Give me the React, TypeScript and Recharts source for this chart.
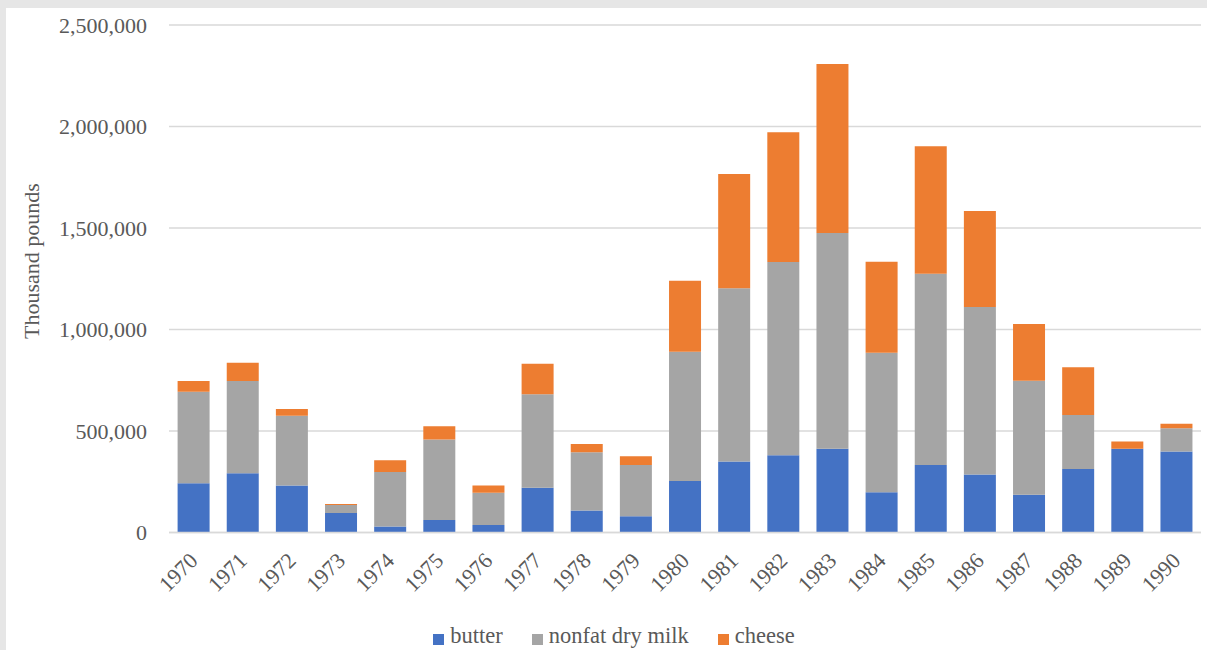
import { BarChart, Bar, XAxis, YAxis, CartesianGrid, Legend } from 'recharts'

// years on the category axis
const years = [
  '1970', '1971', '1972', '1973', '1974', '1975', '1976', '1977', '1978', '1979', '1980',
  '1981', '1982', '1983', '1984', '1985', '1986', '1987', '1988', '1989', '1990',
]

// thousand pounds
const butter = [
  242000, 292000, 232000, 96000, 30000, 61000, 37000, 221000, 108000, 80000, 254000,
  350000, 381000, 413000, 198000, 333000, 286000, 186000, 313000, 413000, 399000,
]
const nonfatDryMilk = [
  451000, 454000, 343000, 39000, 268000, 397000, 159000, 460000, 287000, 253000, 636000,
  853000, 951000, 1062000, 688000, 942000, 825000, 561000, 266000, 0, 115000,
]
const cheese = [
  53000, 90000, 33000, 5000, 58000, 66000, 35000, 150000, 41000, 43000, 350000,
  563000, 640000, 833000, 448000, 628000, 473000, 280000, 235000, 35000, 22000,
]

const seriesNames = ['butter', 'nonfat dry milk', 'cheese']
const yTicks = [0, 500000, 1000000, 1500000, 2000000, 2500000]

const data = years.map((year, i) => ({
  year,
  butter: butter[i],
  nonfat: nonfatDryMilk[i],
  cheese: cheese[i],
}))

const FONT =
  "'Liberation Serif', Tinos, 'Times New Roman', Times, 'Nimbus Roman', 'Nimbus Roman No9 L', FreeSerif, 'Noto Serif', 'DejaVu Serif', serif"
const TEXT = '#595959'
const GRID = '#d9d9d9'

function YearTick({ x, y, payload }: any) {
  return (
    <g transform={`translate(${x},${y + 24})`}>
      <text
        transform="rotate(-45)"
        textAnchor="end"
        dy="0.35em"
        fill={TEXT}
        style={{ fontSize: 22, fontFamily: FONT }}
      >
        {payload.value}
      </text>
    </g>
  )
}

function LegendBox({ payload }: any) {
  const items = [...(payload || [])].sort(
    (a: any, b: any) => seriesNames.indexOf(a.value) - seriesNames.indexOf(b.value),
  )
  return (
    <div
      style={{
        display: 'flex',
        justifyContent: 'center',
        paddingLeft: 21,
        position: 'relative',
        top: 5,
        lineHeight: '34px',
        fontSize: 22.5,
        fontFamily: FONT,
        color: TEXT,
      }}
    >
      {items.map((p: any, i: number) => (
        <span key={p.value} style={{ marginLeft: i === 0 ? 0 : 29, whiteSpace: 'nowrap' }}>
          <span
            style={{
              display: 'inline-block',
              width: 11,
              height: 11,
              background: p.color,
              marginRight: 6,
              verticalAlign: -2,
            }}
          />
          {p.value}
        </span>
      ))}
    </div>
  )
}

export default function App() {
  return (
    <div style={{ position: 'absolute', left: 0, top: 0, width: 1207, height: 650, background: '#e6e6e6', fontFamily: FONT }}>
      <div style={{ position: 'absolute', left: 6, top: 8, width: 1201, height: 642, background: '#fff' }}>
        <BarChart
          width={1201}
          height={642}
          data={data}
          margin={{ top: 17, right: 6, left: 0, bottom: 0 }}
          barCategoryGap="17.5%"
          style={{ fontFamily: FONT }}
        >
          <CartesianGrid vertical={false} stroke={GRID} strokeWidth={1.5} />
          <XAxis
            dataKey="year"
            interval={0}
            height={81.5}
            tickLine={false}
            tickSize={0}
            tickMargin={0}
            axisLine={{ stroke: GRID, strokeWidth: 1.5 }}
            tick={<YearTick />}
          />
          <YAxis
            width={163}
            domain={[0, 2500000]}
            ticks={yTicks}
            interval={0}
            axisLine={false}
            tickLine={false}
            tickSize={0}
            tickMargin={22}
            tick={{ fill: TEXT, fontSize: 22, style: { fontFamily: FONT } }}
            tickFormatter={(v: number) => v.toLocaleString('en-US')}
            label={() => (
              <text
                x={25.5}
                y={253}
                transform="rotate(-90 25.5 253)"
                textAnchor="middle"
                dominantBaseline="central"
                fill={TEXT}
                style={{ fontSize: 22, fontFamily: FONT }}
              >
                Thousand pounds
              </text>
            )}
          />
          <Legend
            verticalAlign="bottom"
            wrapperStyle={{ height: 36 }}
            content={<LegendBox />}
          />
          <Bar dataKey="butter" name="butter" stackId="a" fill="#4472C4" isAnimationActive={false} />
          <Bar dataKey="nonfat" name="nonfat dry milk" stackId="a" fill="#A5A5A5" isAnimationActive={false} />
          <Bar dataKey="cheese" name="cheese" stackId="a" fill="#ED7D31" isAnimationActive={false} />
        </BarChart>
      </div>
    </div>
  )
}
